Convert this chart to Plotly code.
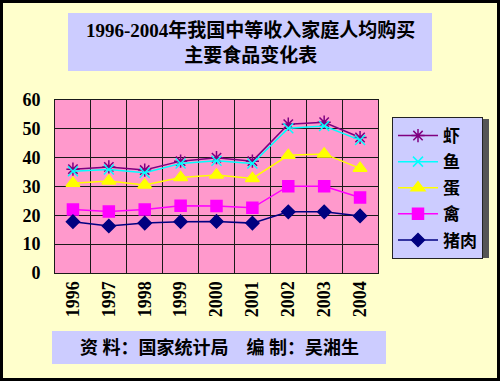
import plotly.graph_objects as go

years = ["1996", "1997", "1998", "1999", "2000", "2001", "2002", "2003", "2004"]
shrimp = [36.0, 36.8, 35.7, 38.8, 40.0, 38.8, 51.6, 52.3, 47.0]
fish = [35.3, 35.9, 34.8, 38.0, 38.9, 38.0, 50.2, 51.0, 46.1]
egg = [31.1, 31.9, 30.5, 33.1, 34.0, 32.8, 40.8, 41.3, 36.3]
poultry = [22.0, 21.3, 22.0, 23.3, 23.2, 22.6, 30.1, 30.1, 26.2]
pork = [17.8, 16.3, 17.3, 17.8, 17.9, 17.3, 21.2, 21.2, 19.8]

names = ["虾", "鱼", "蛋", "禽", "猪肉"]
series = [shrimp, fish, egg, poultry, pork]
colors = ["#800080", "#00FFFF", "#FFFF00", "#FF00FF", "#000080"]
symbols = ["asterisk-open", "x-thin-open", "triangle-up", "square", "diamond"]
msizes = [11, 10, 12, 11, 10]

W, H = 500, 381
L, R, T, B = 55, 378, 100, 273


def px(x):
    return (x - L) / (R - L)


def py(y):
    return (B - y) / (B - T)


SERIF = "Liberation Serif, Noto Sans CJK SC"

fig = go.Figure()
for name, vals, c, s, ms in zip(names, series, colors, symbols, msizes):
    fig.add_trace(go.Scatter(
        x=years, y=vals, name=name, mode="lines+markers",
        line=dict(color=c, width=1.5),
        marker=dict(symbol=s, size=ms, color=c, line=dict(color=c, width=1.5)),
        legendgroup=name,
    ))

shapes = [
    # outer border
    dict(type="rect", xref="paper", yref="paper", x0=px(1.5), x1=px(498.5),
         y0=py(379.5), y1=py(1.5), line=dict(color="black", width=3), layer="below"),
    # title box
    dict(type="rect", xref="paper", yref="paper", x0=px(68), x1=px(432),
         y0=py(71), y1=py(13), fillcolor="#CCCCFF", line=dict(width=0), layer="below"),
    # bottom box
    dict(type="rect", xref="paper", yref="paper", x0=px(52), x1=px(386),
         y0=py(364), y1=py(331), fillcolor="#CCCCFF", line=dict(width=0), layer="below"),
    # legend shadow
    dict(type="rect", xref="paper", yref="paper", x0=px(395), x1=px(489),
         y0=py(258), y1=py(119), fillcolor="#555555", line=dict(width=0), layer="below"),
]

annotations = [
    dict(text="1996-2004年我国中等收入家庭人均购买<br>主要食品变化表", xref="paper", yref="paper",
         x=px(250), y=py(42), xanchor="center", yanchor="middle", showarrow=False,
         font=dict(family=SERIF, size=19, color="black", weight="bold")),
    dict(text="资 料：国家统计局　编 制：吴湘生", xref="paper", yref="paper",
         x=px(219), y=py(347), xanchor="center", yanchor="middle", showarrow=False,
         font=dict(family=SERIF, size=18, color="black", weight="bold")),
]

fig.update_layout(
    width=W, height=H,
    margin=dict(l=L, r=W - R, t=T, b=H - B, pad=0, autoexpand=False),
    paper_bgcolor="#FFFFCC",
    plot_bgcolor="#FF99CC",
    shapes=shapes,
    annotations=annotations,
    showlegend=True,
    legend=dict(
        x=px(392), y=py(117), xanchor="left", yanchor="top",
        bgcolor="#CCCCFF", bordercolor="#222222", borderwidth=1,
        font=dict(family=SERIF, size=17, color="black", weight="bold"),
        tracegroupgap=1, itemwidth=40,
    ),
    xaxis=dict(
        type="category", tickson="boundaries", showgrid=True, gridcolor="#1a1a1a",
        gridwidth=1, showline=True, linecolor="#1a1a1a", linewidth=1, mirror=True,
        ticks="", tickangle=-90, automargin=False,
        tickfont=dict(family="Liberation Serif", size=18, color="black", weight="bold"),
        range=[-0.5, 8.5], fixedrange=True,
    ),
    yaxis=dict(
        range=[0, 60], dtick=10, showgrid=True, gridcolor="#1a1a1a", gridwidth=1,
        showline=True, linecolor="#1a1a1a", linewidth=1, mirror=True, zeroline=False,
        ticks="", ticklabelstandoff=10, automargin=False, fixedrange=True,
        tickfont=dict(family="Liberation Serif", size=18, color="black", weight="bold"),
    ),
)

fig.write_html("out.html", config={"displayModeBar": False},
               post_script="document.body.style.margin='0';")
